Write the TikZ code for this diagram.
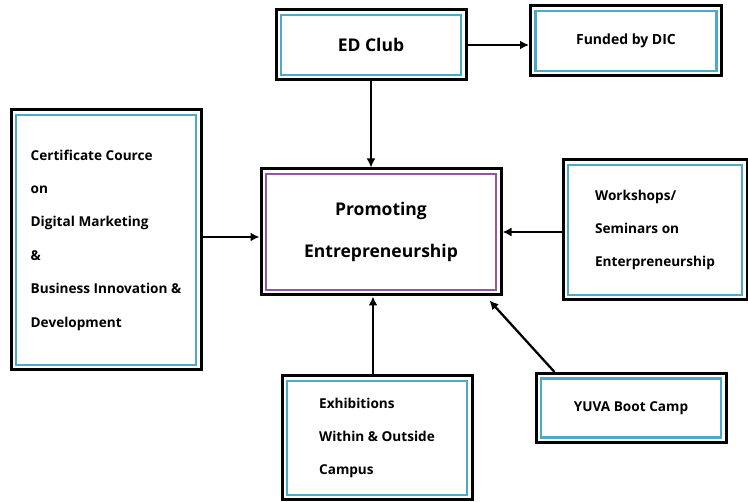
\documentclass[tikz,border=0pt]{standalone}
\usepackage{fontspec}
\setmainfont{Open Sans}
\usepackage{tikz}
\usetikzlibrary{shapes,arrows.meta}
\definecolor{framecyan}{RGB}{78,168,200}
\definecolor{framepurple}{RGB}{150,84,165}
\begin{document}
\begin{tikzpicture}[x=1pt,y=1pt]
      \tikzstyle{box}=[rectangle,draw=black,line width=3pt,fill=white,align=left,inner sep=0pt,
        font=\bfseries\fontsize{13.6}{33.4}\selectfont,
        path picture={\draw[framecyan,line width=2.2pt] ([xshift=5pt,yshift=-5pt]path picture bounding box.north west) rectangle ([xshift=-5pt,yshift=5pt]path picture bounding box.south east);}]
      \tikzstyle{mainbox}=[box,align=center,font=\bfseries\fontsize{17.5}{42}\selectfont,
        path picture={\draw[framepurple,line width=2.2pt] ([xshift=5pt,yshift=-5pt]path picture bounding box.north west) rectangle ([xshift=-5pt,yshift=5pt]path picture bounding box.south east);}]
      \tikzstyle{link}=[line width=2.3pt,-{Latex[length=9pt,width=9pt]}]
      \useasboundingbox (0,0) rectangle (748,502);
      \node[mainbox,minimum width=240pt,minimum height=126pt] (prom) at (381,270) {Promoting\\Entrepreneurship};
      \node[box,minimum width=190pt,minimum height=70pt,font=\bfseries\fontsize{17.5}{20}\selectfont] (ed) at (371,457) {ED Club};
      \node[box,minimum width=191pt,minimum height=70pt,font=\bfseries\fontsize{14}{18}\selectfont] (dic) at (626,461) {Funded by DIC};
      \node[box,minimum width=190pt,minimum height=260pt] (cert) at (106,262)
        {Certificate Cource\\on\\Digital Marketing\\\&\\Business Innovation \&\\Development};
      \node[box,minimum width=184pt,minimum height=140pt] (work) at (655,272)
        {Workshops/\\Seminars on\\Enterpreneurship};
      \node[box,minimum width=190pt,minimum height=124pt] (exh) at (377,64)
        {Exhibitions\\Within \& Outside\\Campus};
      \node[box,minimum width=190pt,minimum height=69pt] (yuva) at (631,94) {YUVA Boot Camp};
      \draw[link] (ed.south) -- (ed.south |- prom.north);
      \draw[link] (ed.east) -- (ed.east -| dic.west);
      \draw[link] ([yshift=3pt]cert.east) -- ([yshift=3pt]cert.east -| prom.west);
      \draw[link] ([yshift=-2pt]work.west) -- ([yshift=-2pt]work.west -| prom.east);
      \draw[link] ([xshift=-4pt]exh.north) -- ([xshift=-4pt]exh.north |- prom.south);
      \draw[link] ([xshift=20pt]yuva.north west) -- ([xshift=-13pt,yshift=-4pt]prom.south east);
\end{tikzpicture}
\end{document}
